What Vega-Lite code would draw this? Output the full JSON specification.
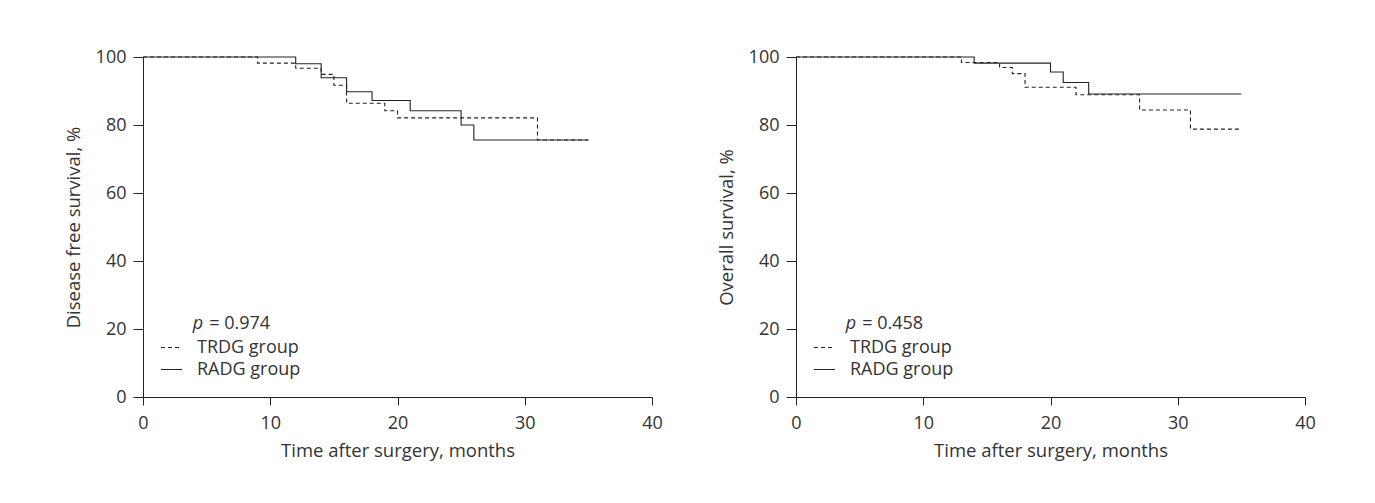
{
  "$schema": "https://vega.github.io/schema/vega-lite/v6.json",
  "background": "white",
  "padding": {"left": 64, "top": 48, "right": 5, "bottom": 5},
  "bounds": "flush",
  "spacing": 144,
  "datasets": {
    "km": [
      {"panel": "A", "group": "TRDG group", "month": 0, "surv": 100},
      {"panel": "A", "group": "TRDG group", "month": 9, "surv": 98.2},
      {"panel": "A", "group": "TRDG group", "month": 12, "surv": 96.7},
      {"panel": "A", "group": "TRDG group", "month": 14, "surv": 94.9},
      {"panel": "A", "group": "TRDG group", "month": 15, "surv": 91.7},
      {"panel": "A", "group": "TRDG group", "month": 16, "surv": 86.4},
      {"panel": "A", "group": "TRDG group", "month": 19, "surv": 84.2},
      {"panel": "A", "group": "TRDG group", "month": 20, "surv": 82.1},
      {"panel": "A", "group": "TRDG group", "month": 31, "surv": 75.6},
      {"panel": "A", "group": "TRDG group", "month": 35, "surv": 75.6},
      {"panel": "A", "group": "RADG group", "month": 0, "surv": 100},
      {"panel": "A", "group": "RADG group", "month": 12, "surv": 98.0},
      {"panel": "A", "group": "RADG group", "month": 14, "surv": 93.9},
      {"panel": "A", "group": "RADG group", "month": 16, "surv": 89.8},
      {"panel": "A", "group": "RADG group", "month": 18, "surv": 87.2},
      {"panel": "A", "group": "RADG group", "month": 21, "surv": 84.2},
      {"panel": "A", "group": "RADG group", "month": 25, "surv": 80.0},
      {"panel": "A", "group": "RADG group", "month": 26, "surv": 75.6},
      {"panel": "A", "group": "RADG group", "month": 35, "surv": 75.6},
      {"panel": "B", "group": "TRDG group", "month": 0, "surv": 100},
      {"panel": "B", "group": "TRDG group", "month": 13, "surv": 98.4},
      {"panel": "B", "group": "TRDG group", "month": 16, "surv": 96.9},
      {"panel": "B", "group": "TRDG group", "month": 17, "surv": 95.1},
      {"panel": "B", "group": "TRDG group", "month": 18, "surv": 91.1},
      {"panel": "B", "group": "TRDG group", "month": 22, "surv": 88.9},
      {"panel": "B", "group": "TRDG group", "month": 27, "surv": 84.4},
      {"panel": "B", "group": "TRDG group", "month": 31, "surv": 78.8},
      {"panel": "B", "group": "TRDG group", "month": 35, "surv": 78.8},
      {"panel": "B", "group": "RADG group", "month": 0, "surv": 100},
      {"panel": "B", "group": "RADG group", "month": 14, "surv": 98.2},
      {"panel": "B", "group": "RADG group", "month": 20, "surv": 95.6},
      {"panel": "B", "group": "RADG group", "month": 21, "surv": 92.5},
      {"panel": "B", "group": "RADG group", "month": 23, "surv": 89.1},
      {"panel": "B", "group": "RADG group", "month": 35, "surv": 89.1}
    ]
  },
  "config": {
    "font": "Open Sans",
    "view": {"stroke": null},
    "axis": {
      "grid": false,
      "domainColor": "#222",
      "tickColor": "#222",
      "domainWidth": 1,
      "tickWidth": 1,
      "labelColor": "#333",
      "titleColor": "#333",
      "labelFont": "Open Sans",
      "titleFont": "Open Sans",
      "labelFontSize": 18,
      "titleFontSize": 18.5,
      "titleFontWeight": "normal",
      "labelFlush": false
    },
    "axisX": {"tickSize": 8, "labelPadding": 9, "titlePadding": 9},
    "axisY": {"tickSize": 10, "labelPadding": 7, "titlePadding": 12},
    "legend": {
      "labelFont": "Open Sans",
      "labelFontSize": 18,
      "labelColor": "#333",
      "padding": 0
    }
  },
  "hconcat": [
    {
      "width": 509,
      "height": 340,
      "layer": [
        {
          "data": {"name": "km"},
          "transform": [{"filter": "datum.panel == 'A'"}],
          "mark": {"type": "line", "interpolate": "step-after", "strokeWidth": 1.1, "color": "#222"},
          "encoding": {
            "x": {"field": "month", "type": "quantitative", "scale": {"domain": [0, 40]}, "axis": {"title": "Time after surgery, months", "values": [0, 10, 20, 30, 40]}},
            "y": {"field": "surv", "type": "quantitative", "scale": {"domain": [0, 100]}, "axis": {"title": "Disease free survival, %", "values": [0, 20, 40, 60, 80, 100]}},
            "strokeDash": {
              "field": "group", "type": "nominal",
              "scale": {"domain": ["TRDG group", "RADG group"], "range": [[4, 3], [1, 0]]},
              "legend": {"title": null, "orient": "none", "legendX": 17, "legendY": 279, "symbolType": "stroke", "symbolSize": 441, "symbolStrokeWidth": 1.1, "symbolStrokeColor": "#222", "labelOffset": 14, "rowPadding": 1}
            }
          }
        },
        {
          "data": {"values": [{"p": "p"}]},
          "mark": {"type": "text", "align": "left", "baseline": "middle", "fontSize": 18, "fontStyle": "italic", "color": "#333", "font": "Open Sans"},
          "encoding": {"x": {"datum": 3.9}, "y": {"datum": 21.6}, "text": {"field": "p"}}
        },
        {
          "data": {"values": [{"p": "= 0.974"}]},
          "mark": {"type": "text", "align": "left", "baseline": "middle", "fontSize": 18, "color": "#333", "font": "Open Sans"},
          "encoding": {"x": {"datum": 5.2}, "y": {"datum": 21.6}, "text": {"field": "p"}}
        }
      ]
    },
    {
      "width": 509,
      "height": 340,
      "layer": [
        {
          "data": {"name": "km"},
          "transform": [{"filter": "datum.panel == 'B'"}],
          "mark": {"type": "line", "interpolate": "step-after", "strokeWidth": 1.1, "color": "#222"},
          "encoding": {
            "x": {"field": "month", "type": "quantitative", "scale": {"domain": [0, 40]}, "axis": {"title": "Time after surgery, months", "values": [0, 10, 20, 30, 40]}},
            "y": {"field": "surv", "type": "quantitative", "scale": {"domain": [0, 100]}, "axis": {"title": "Overall survival, %", "values": [0, 20, 40, 60, 80, 100]}},
            "strokeDash": {
              "field": "group", "type": "nominal",
              "scale": {"domain": ["TRDG group", "RADG group"], "range": [[4, 3], [1, 0]]},
              "legend": {"title": null, "orient": "none", "legendX": 17, "legendY": 279, "symbolType": "stroke", "symbolSize": 441, "symbolStrokeWidth": 1.1, "symbolStrokeColor": "#222", "labelOffset": 14, "rowPadding": 1}
            }
          }
        },
        {
          "data": {"values": [{"p": "p"}]},
          "mark": {"type": "text", "align": "left", "baseline": "middle", "fontSize": 18, "fontStyle": "italic", "color": "#333", "font": "Open Sans"},
          "encoding": {"x": {"datum": 3.9}, "y": {"datum": 21.6}, "text": {"field": "p"}}
        },
        {
          "data": {"values": [{"p": "= 0.458"}]},
          "mark": {"type": "text", "align": "left", "baseline": "middle", "fontSize": 18, "color": "#333", "font": "Open Sans"},
          "encoding": {"x": {"datum": 5.2}, "y": {"datum": 21.6}, "text": {"field": "p"}}
        }
      ]
    }
  ],
  "resolve": {"scale": {"strokeDash": "independent"}, "legend": {"strokeDash": "independent"}}
}
